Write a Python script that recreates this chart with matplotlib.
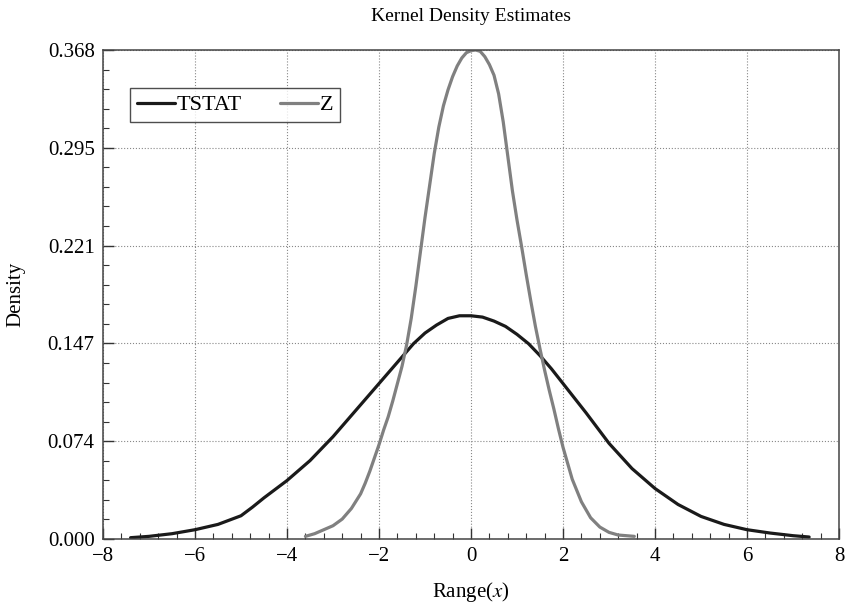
import matplotlib
matplotlib.use("Agg")
import matplotlib.pyplot as plt
from matplotlib.ticker import AutoMinorLocator, FixedLocator

# ---- data ----
tstat_x = [-7.4, -7.0, -6.5, -6.0, -5.5, -5.0, -4.75, -4.5, -4.0, -3.5, -3.0, -2.5, -2.25, -2.0,
           -1.75, -1.5, -1.25, -1.0, -0.75, -0.5, -0.25, 0.0, 0.25, 0.5, 0.75, 1.0, 1.25,
           1.5, 1.75, 2.0, 2.25, 2.5, 3.0, 3.5, 4.0, 4.5, 5.0, 5.5, 6.0, 6.5, 7.0, 7.35]
tstat_y = [0.001, 0.002, 0.004, 0.007, 0.011, 0.0175, 0.024, 0.031, 0.044, 0.059, 0.077, 0.097, 0.107, 0.117,
           0.127, 0.137, 0.147, 0.155, 0.161, 0.166, 0.168, 0.168, 0.167, 0.164, 0.160, 0.154, 0.147,
           0.138, 0.128, 0.117, 0.106, 0.095, 0.072, 0.053, 0.038, 0.026, 0.017, 0.011, 0.007, 0.0045,
           0.0025, 0.0015]

z_x = [-3.6, -3.4, -3.2, -3.0, -2.8, -2.6, -2.4, -2.3, -2.2, -2.1, -2.0, -1.9, -1.8, -1.7,
       -1.6, -1.5, -1.4, -1.3, -1.2, -1.1, -1.0, -0.9, -0.8, -0.7, -0.6, -0.5, -0.4, -0.3,
       -0.2, -0.1, 0.0, 0.1, 0.2, 0.3, 0.4, 0.5, 0.6, 0.7, 0.8, 0.9, 1.0, 1.1, 1.2, 1.3,
       1.4, 1.5, 1.6, 1.7, 1.8, 1.9, 2.0, 2.2, 2.4, 2.6, 2.8, 3.0, 3.2, 3.55]
z_y = [0.002, 0.004, 0.007, 0.010, 0.015, 0.023, 0.034, 0.042, 0.051, 0.061, 0.071, 0.082, 0.092, 0.104,
       0.117, 0.130, 0.146, 0.166, 0.190, 0.216, 0.242, 0.266, 0.290, 0.310, 0.326, 0.338, 0.348, 0.356,
       0.362, 0.366, 0.3675, 0.368, 0.367, 0.363, 0.357, 0.349, 0.335, 0.314, 0.288, 0.262, 0.240, 0.220, 0.199, 0.179,
       0.160, 0.143, 0.127, 0.112, 0.098, 0.083, 0.069, 0.045, 0.028, 0.016, 0.009, 0.005, 0.003, 0.002]

series_names = ["TSTAT", "Z"]
x_ticks = [-8, -6, -4, -2, 0, 2, 4, 6, 8]
y_ticks = [0.0, 0.0736, 0.1472, 0.2208, 0.2944, 0.368]
y_tick_labels = ["0.000", "0.074", "0.147", "0.221", "0.295", "0.368"]

plt.rcParams['font.family'] = ['Liberation Serif', 'DejaVu Serif']
plt.rcParams['mathtext.fontset'] = 'stix'

fig = plt.figure(figsize=(8.47, 6.04), dpi=100)
ax = fig.add_axes([0.1216, 0.1076, 0.9906 - 0.1216, 0.9172 - 0.1076])

ax.plot(tstat_x, tstat_y, color='#1a1a1a', lw=2.3, label=series_names[0],
        solid_capstyle='round', solid_joinstyle='round')
ax.plot(z_x, z_y, color='#808080', lw=2.3, label=series_names[1],
        solid_capstyle='round', solid_joinstyle='round')

ax.set_xlim(-8, 8)
ax.set_ylim(0, 0.368)
ax.xaxis.set_major_locator(FixedLocator(x_ticks))
ax.yaxis.set_major_locator(FixedLocator(y_ticks))
ax.set_yticklabels(y_tick_labels)
ax.xaxis.set_minor_locator(AutoMinorLocator(5))
ax.yaxis.set_minor_locator(AutoMinorLocator(5))
ax.tick_params(which='major', direction='in', length=8, width=1, color='#333333',
               labelsize=15, top=False, right=False, pad=6)
ax.tick_params(which='minor', direction='in', length=4, width=0.8, color='#333333',
               top=False, right=False)
for s in ax.spines.values():
    s.set_color('#444444')
    s.set_linewidth(1.1)

ax.grid(True, which='major', linestyle=':', color='#888888', lw=0.8)
ax.set_axisbelow(True)

ax.set_xlabel('Range($x$)', fontsize=15, labelpad=10)
ax.set_ylabel('Density', fontsize=15, labelpad=16)
ax.set_title('Kernel Density Estimates', fontsize=14, pad=21)

leg = ax.legend(loc='upper left', bbox_to_anchor=(0.037, 0.922), ncol=2, fontsize=16,
                frameon=True, fancybox=False, handlelength=1.7, handletextpad=0.1,
                columnspacing=1.7, borderpad=0.3, borderaxespad=0)
leg.get_frame().set_edgecolor('#222222')
leg.get_frame().set_linewidth(1.0)

fig.savefig('out.png', dpi=100)
